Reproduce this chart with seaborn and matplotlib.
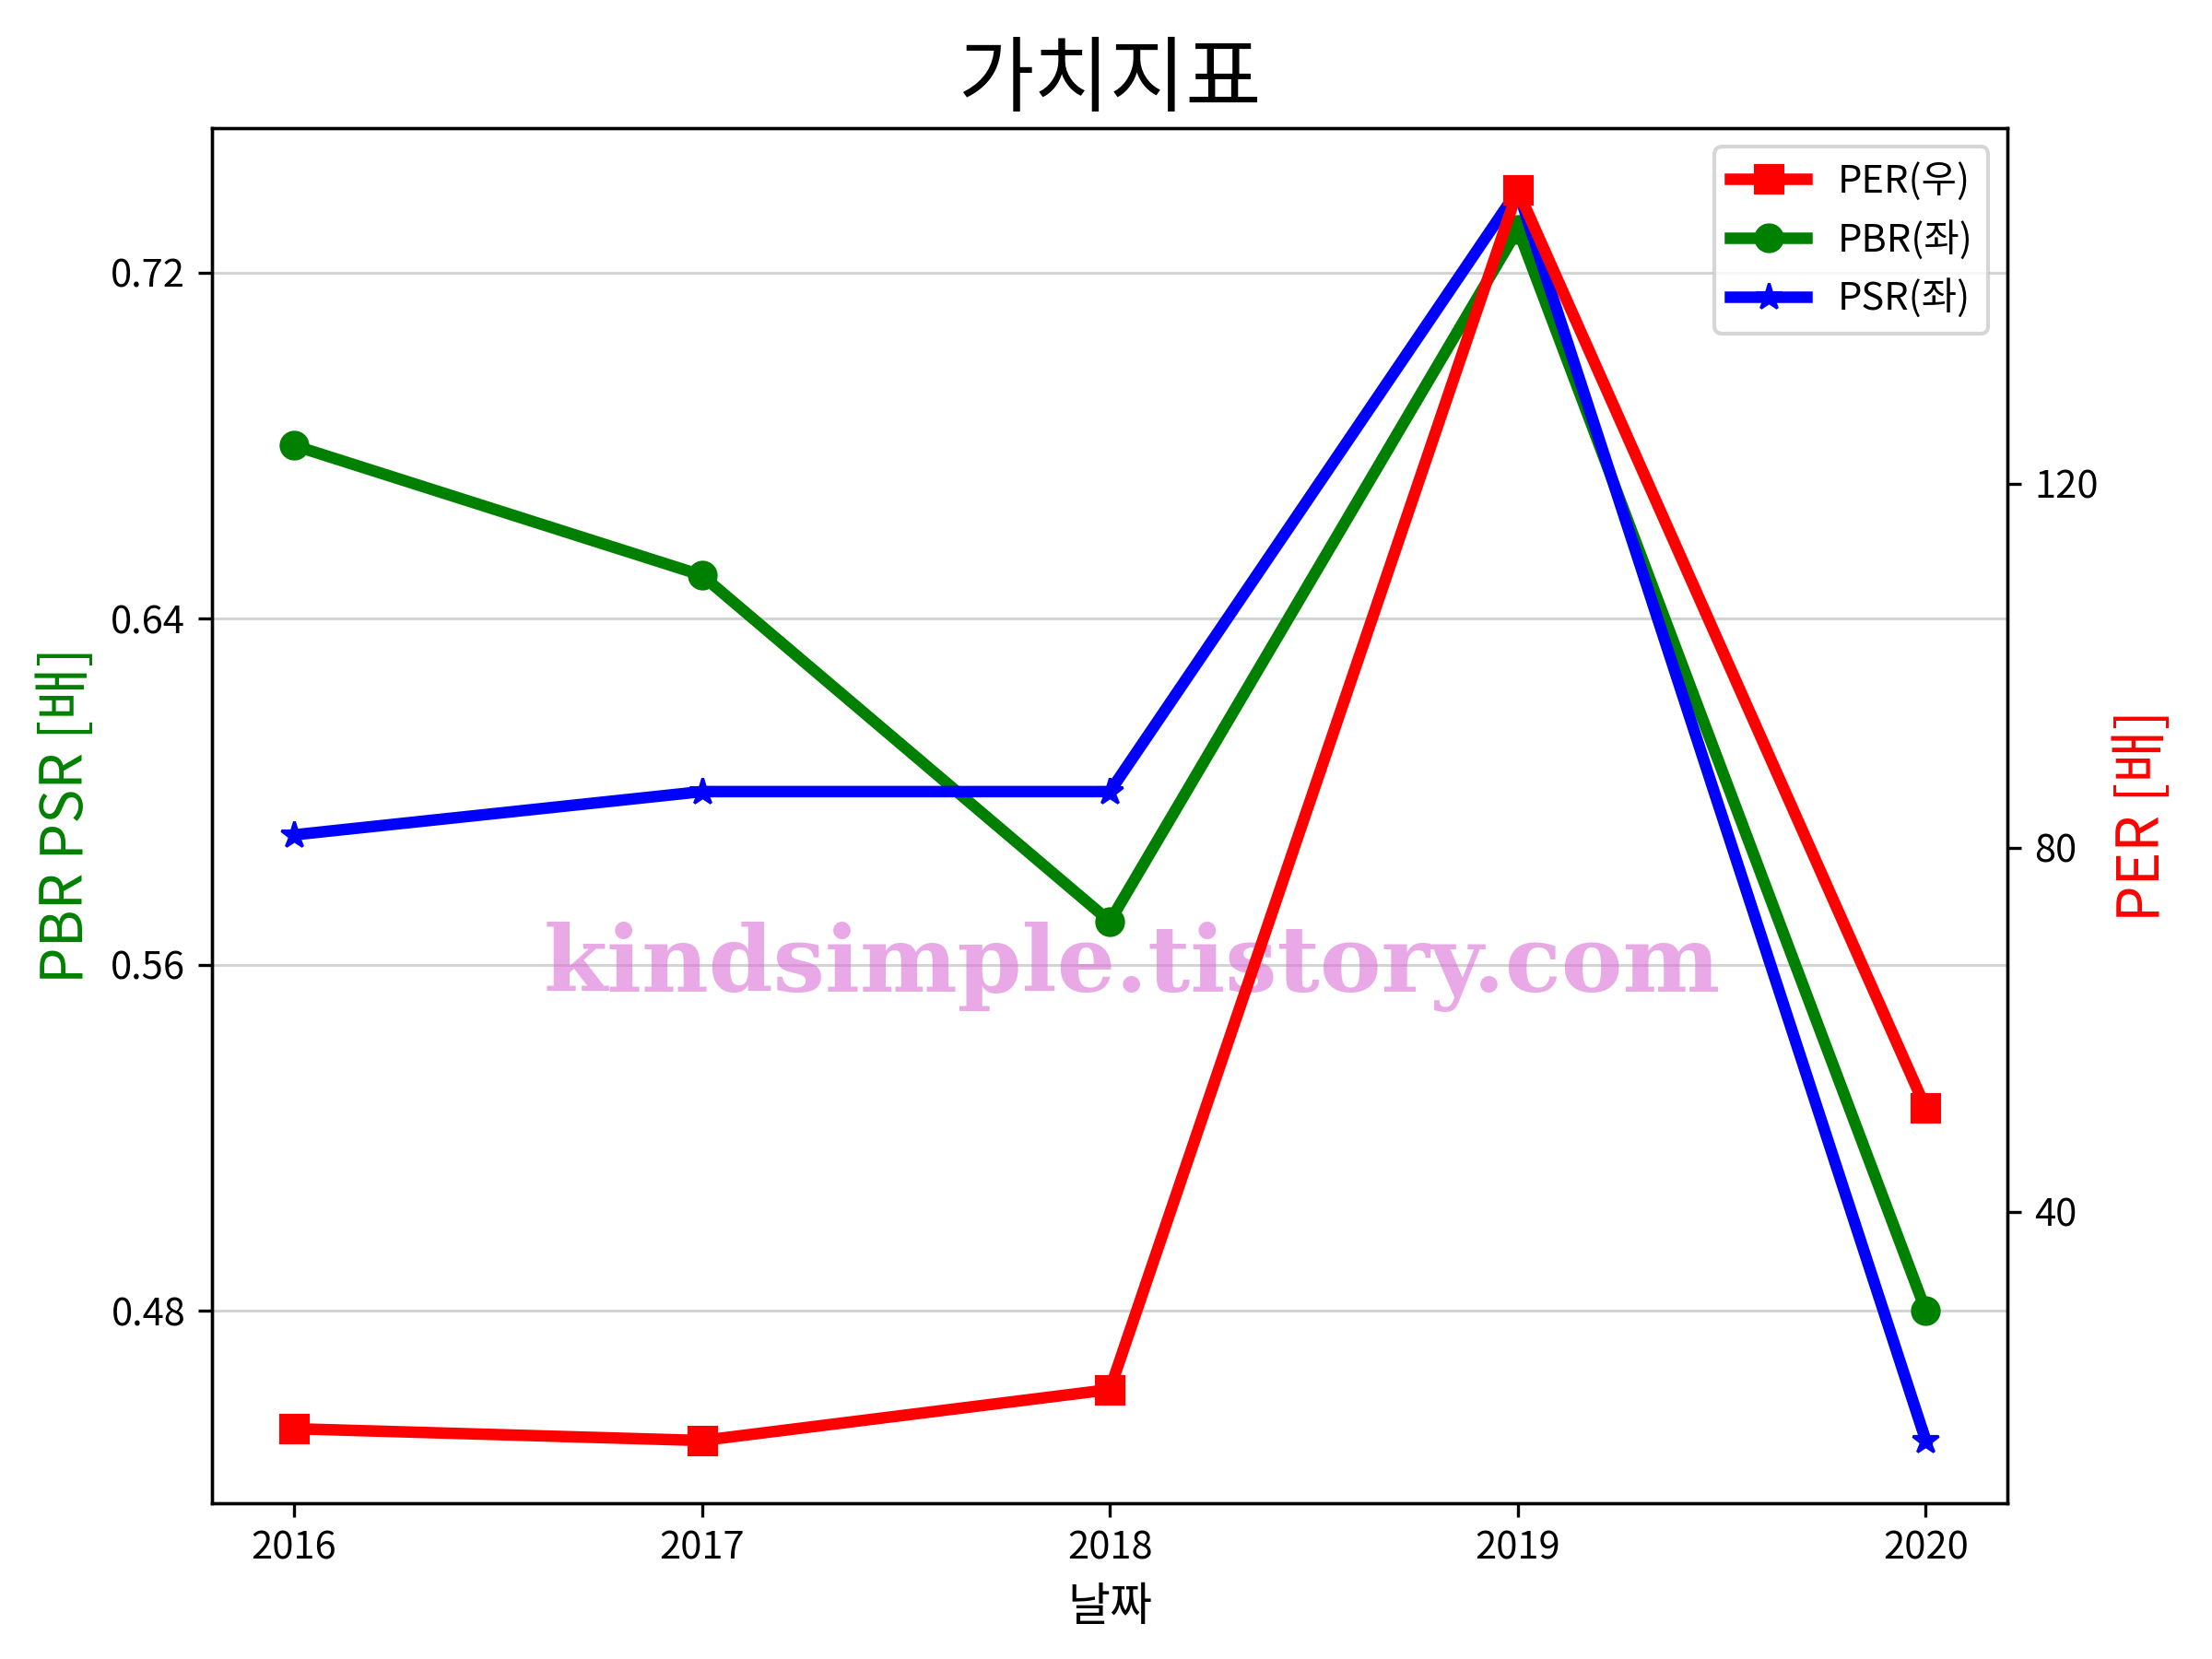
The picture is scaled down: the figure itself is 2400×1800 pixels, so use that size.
import numpy as np
import pandas as pd
import matplotlib
matplotlib.use("Agg")
import matplotlib.pyplot as plt
import seaborn as sns

plt.rcParams['font.family'] = ['Noto Sans CJK KR', 'DejaVu Sans']
plt.rcParams['axes.unicode_minus'] = False

# data
years = [2016, 2017, 2018, 2019, 2020]
per = [16.2, 14.9, 20.5, 152.2, 51.4]
pbr = [0.680, 0.650, 0.570, 0.730, 0.480]
psr = [0.590, 0.600, 0.600, 0.739, 0.450]
left_ticks = [0.48, 0.56, 0.64, 0.72]
right_ticks = [40, 80, 120]

df = pd.DataFrame({"날짜": years, "PER": per, "PBR": pbr, "PSR": psr})

fig, ax = plt.subplots(figsize=(8, 6), dpi=300)
fig.subplots_adjust(left=0.096, right=0.9075, top=0.923, bottom=0.094)
ax2 = ax.twinx()

sns.lineplot(data=df, x="날짜", y="PBR", ax=ax, color="green", marker="o",
             markersize=7, markeredgecolor="green", lw=3, label="PBR(좌)", legend=False)
sns.lineplot(data=df, x="날짜", y="PSR", ax=ax, color="blue", marker="*",
             markersize=7, markeredgecolor="blue", lw=3, label="PSR(좌)", legend=False)
sns.lineplot(data=df, x="날짜", y="PER", ax=ax2, color="red", marker="s",
             markersize=7, markeredgecolor="red", lw=3, label="PER(우)", legend=False)

ax.set_yticks(left_ticks)
ax.set_yticklabels([f"{t:.2f}" for t in left_ticks])
ax2.set_yticks(right_ticks)
ax.set_xticks(years)
ax.grid(axis="y", color="#d3d3d3", lw=0.7)

ax.set_xlabel("날짜", fontsize=12)
ax.set_ylabel("PBR PSR [배]", color="green", fontsize=15)
ax2.set_ylabel("PER [배]", color="red", fontsize=15)
ax.set_title("가치지표", fontsize=21.5)

h1, l1 = ax.get_legend_handles_labels()
h2, l2 = ax2.get_legend_handles_labels()
ax2.legend(h2 + h1, l2 + l1, loc="upper right", fontsize=10)

ax.text(0.5125, 0.39, "kindsimple.tistory.com", transform=ax.transAxes,
        ha="center", va="center", fontsize=24, fontweight="bold",
        family="DejaVu Serif", color="orchid", alpha=0.6, zorder=5)

fig.savefig("out.png", dpi=300)
